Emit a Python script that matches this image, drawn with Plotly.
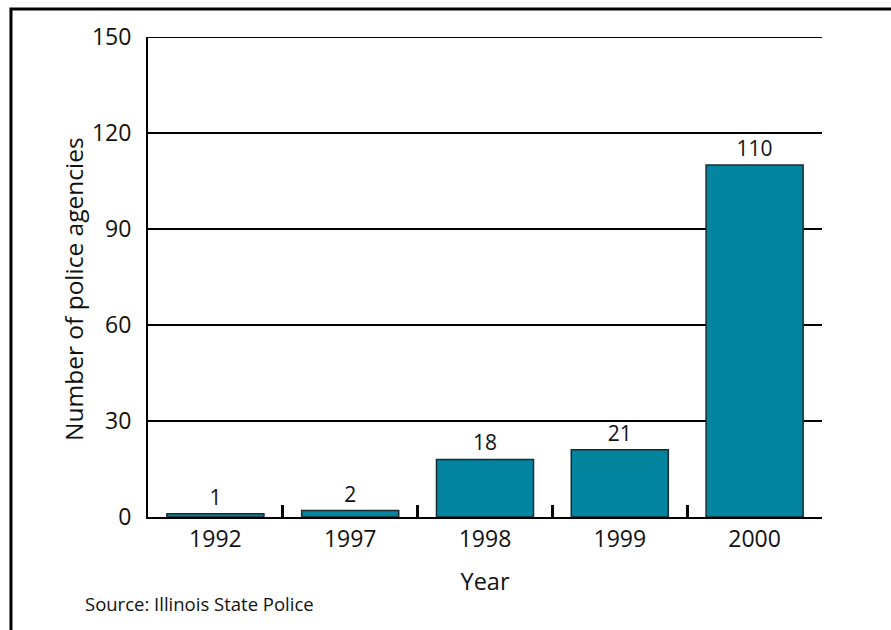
import plotly.graph_objects as go

# Police agencies participating, by year
years = ["1992", "1997", "1998", "1999", "2000"]
agencies = [1, 2, 18, 21, 110]
y_ticks = [0, 30, 60, 90, 120, 150]

bar_color = "#03849F"
font_family = "Open Sans, Noto Sans, sans-serif"

fig = go.Figure(
    go.Bar(
        x=years,
        y=agencies,
        width=0.72,
        marker=dict(color=bar_color, line=dict(color="#1b2b30", width=1.5)),
        text=[str(v) for v in agencies],
        textposition="outside",
        cliponaxis=False,
        textfont=dict(size=21, color="#111111", family=font_family),
    )
)

# Frame around the whole graphic
fig.add_shape(
    type="rect", xref="paper", yref="paper",
    x0=-0.2033, y0=-0.3, x1=1.2, y1=1.0583,
    line=dict(color="black", width=3), fillcolor="rgba(0,0,0,0)",
    layer="below",
)

# Gridline at the top of the value range
fig.add_shape(
    type="line", xref="paper", yref="y",
    x0=0, x1=1, y0=y_ticks[-1], y1=y_ticks[-1],
    line=dict(color="black", width=2), layer="below",
)

# Vertical axis title, set a little below the plot's middle
fig.add_annotation(
    text="Number of police agencies",
    xref="paper", yref="paper", x=-0.1113, y=0.475,
    xanchor="center", yanchor="middle", textangle=-90, showarrow=False,
    font=dict(size=24.5, color="#111111", family=font_family),
)

fig.add_annotation(
    text="Source: Illinois State Police",
    xref="paper", yref="paper", x=-0.0965, y=-0.1792,
    xanchor="left", yanchor="middle", showarrow=False,
    font=dict(size=18.5, color="#111111", family=font_family),
)

fig.update_layout(
    width=891, height=630,
    margin=dict(l=148, r=69, t=37, b=113),
    paper_bgcolor="white", plot_bgcolor="white",
    font=dict(family=font_family, color="#111111"),
    showlegend=False,
    xaxis=dict(
        showline=True, linecolor="black", linewidth=2,
        ticks="inside", tickson="boundaries", ticklen=12, tickwidth=2.5, tickcolor="black",
        tickfont=dict(size=23),
        title=dict(text="Year", font=dict(size=23.5), standoff=21),
        range=[-0.5, 4.5],
    ),
    yaxis=dict(
        range=[0, 150], tickvals=y_ticks,
        showline=True, linecolor="black", linewidth=2,
        showgrid=True, gridcolor="black", gridwidth=2,
        zeroline=False, ticks="", ticklabelstandoff=10,
        tickfont=dict(size=23),
    ),
)

fig.write_html("out.html")
